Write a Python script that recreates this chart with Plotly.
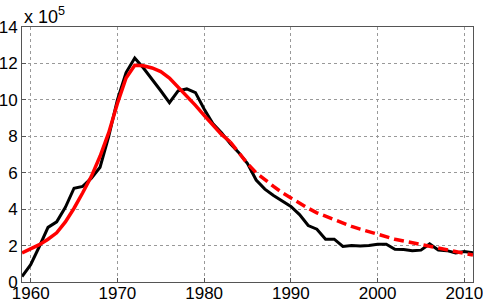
import plotly.graph_objects as go

years_obs = list(range(1959, 2012))
observed = [0.3, 0.95, 1.95, 3.0, 3.3, 4.1, 5.15, 5.25, 5.7, 6.3,
            8.0, 10.0, 11.5, 12.3, 11.75, 11.15, 10.5, 9.85, 10.5, 10.6,
            10.4, 9.5, 8.7, 8.2, 7.6, 7.1, 6.5, 5.6, 5.1, 4.75,
            4.45, 4.15, 3.7, 3.1, 2.9, 2.35, 2.35, 1.95, 2.0, 1.97,
            2.0, 2.07, 2.07, 1.8, 1.78, 1.72, 1.75, 2.09, 1.76, 1.72,
            1.6, 1.67, 1.6]

years_fit = list(range(1959, 1984))
fit = [1.6, 1.8, 2.05, 2.35, 2.7, 3.3, 4.05, 4.9, 5.8, 6.9,
       8.2, 9.8, 11.2, 11.9, 11.87, 11.75, 11.55, 11.2, 10.7, 10.25,
       9.7, 9.15, 8.6, 8.1, 7.7]

years_proj = list(range(1983, 2012))
projection = [7.7, 7.1, 6.5, 6.0, 5.6, 5.25, 4.9, 4.6, 4.3, 4.05,
              3.8, 3.6, 3.4, 3.2, 3.05, 2.9, 2.75, 2.6, 2.45, 2.35,
              2.25, 2.15, 2.05, 1.95, 1.85, 1.75, 1.65, 1.57, 1.48]

y_ticks = [0, 2, 4, 6, 8, 10, 12, 14]
x_ticks = [1960, 1970, 1980, 1990, 2000, 2010]

fig = go.Figure()
fig.add_trace(go.Scatter(x=years_obs, y=observed, mode="lines",
                         line=dict(color="black", width=3)))
fig.add_trace(go.Scatter(x=years_fit, y=fit, mode="lines",
                         line=dict(color="#ff0000", width=3.5)))
fig.add_trace(go.Scatter(x=years_proj, y=projection, mode="lines",
                         line=dict(color="#ff0000", width=3.5, dash="10px,5px")))

axis_common = dict(showgrid=True, gridcolor="#999", griddash="dot", gridwidth=1,
                   showline=True, linecolor="#555", linewidth=1, mirror=True,
                   ticks="inside", ticklen=4, tickcolor="#555",
                   zeroline=False, automargin=False, ticklabeloverflow="allow",
                   tickfont=dict(family="Liberation Sans, Arial", size=17, color="black"))

fig.update_xaxes(range=[1959, 2011], tickvals=x_ticks, ticklabelstandoff=-4, **axis_common)
fig.update_yaxes(range=[0, 14], tickvals=y_ticks, **axis_common)

fig.add_annotation(xref="paper", yref="paper", x=0, y=1.0, xanchor="left", yanchor="bottom",
                   text="x 10<sup>5</sup>", showarrow=False, yshift=-2,
                   font=dict(family="Liberation Sans, Arial", size=18, color="black"))

fig.update_layout(width=483, height=302, showlegend=False,
                  margin=dict(l=22, r=10, t=27, b=20),
                  plot_bgcolor="white", paper_bgcolor="white")

fig.write_html("out.html", config={"displayModeBar": False},
               post_script="document.body.style.margin='0';")
